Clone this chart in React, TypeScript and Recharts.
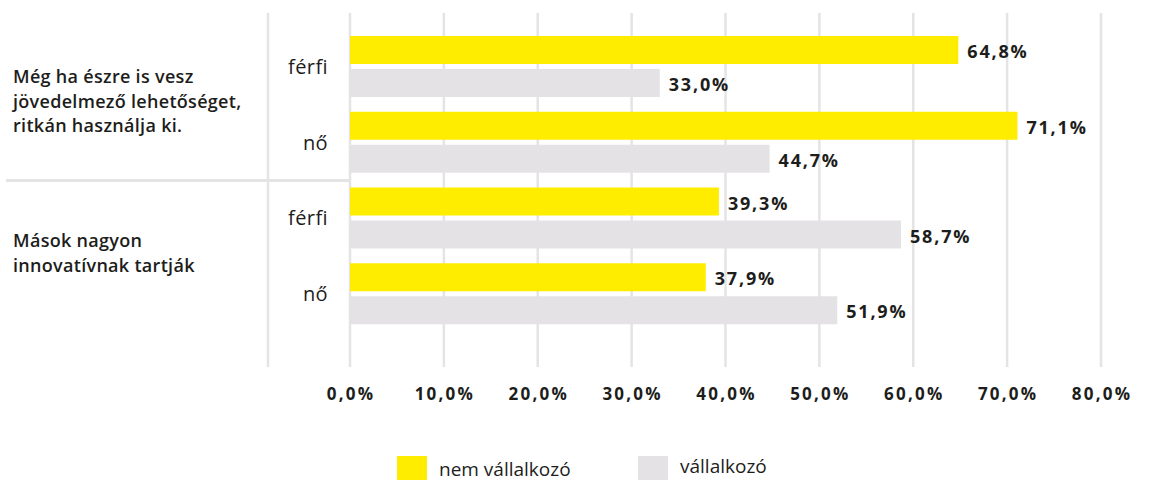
import React from 'react';
import { BarChart, Bar, XAxis, YAxis, CartesianGrid, LabelList } from 'recharts';

const groupLabels = [
  'Még ha észre is vesz\njövedelmező lehetőséget,\nritkán használja ki.',
  'Mások nagyon\ninnovatívnak tartják',
];
const genders = ['férfi', 'nő', 'férfi', 'nő'];
const rowGroup = [0, 0, 1, 1];
const nemVallalkozo = [64.8, 71.1, 39.3, 37.9];
const vallalkozo = [33.0, 44.7, 58.7, 51.9];
const xTicks = [0, 10, 20, 30, 40, 50, 60, 70, 80];
const seriesNames = ['nem vállalkozó', 'vállalkozó'];
const seriesColors = ['#ffed00', '#e4e2e5'];

const data = genders.map((g, i) => ({
  id: `r${i}`,
  gender: g,
  group: groupLabels[rowGroup[i]],
  nem: nemVallalkozo[i],
  vall: vallalkozo[i],
}));

const FONT = '"Open Sans", sans-serif';
const TEXT = '#1d1d1b';
const GRID = '#e4e4e4';
const PLOT_LEFT = 350;

const fmt = (v: number) => v.toFixed(1).replace('.', ',') + '%';

const GenderTick = (props: any) => {
  const { y, payload } = props;
  const row = data.find((d) => d.id === payload.value);
  return (
    <text x={PLOT_LEFT - 22} y={y} dy={7} textAnchor="end" fontSize={20} fill={TEXT} fontFamily={FONT} letterSpacing={0.4}>
      {row ? row.gender : ''}
    </text>
  );
};

const GroupTick = (props: any) => {
  const { y, payload, index } = props;
  const lines = String(payload.value).split('\n');
  const half = payload.offset ?? 75;
  const lh = 24.5;
  const start = y - 3 - ((lines.length - 1) * lh) / 2;
  return (
    <g>
      {lines.map((l, i) => (
        <text key={i} x={13} y={start + i * lh} dy={6} fontSize={18} fontWeight={600} fill={TEXT} fontFamily={FONT} letterSpacing={0.3}>
          {l}
        </text>
      ))}
      {index === 0 && <line x1={6} x2={PLOT_LEFT} y1={y + half} y2={y + half} stroke={GRID} strokeWidth={3} />}
    </g>
  );
};

const XTick = (props: any) => {
  const { x, y, payload } = props;
  return (
    <text x={x + 1} y={y} dy={31} textAnchor="middle" fontSize={17} fontWeight={700} fill={TEXT} fontFamily={FONT} letterSpacing={2.2}>
      {fmt(payload.value)}
    </text>
  );
};

const ValueLabel = (props: any) => {
  const { x, y, width, height, value } = props;
  return (
    <text x={x + width + 9} y={y + height / 2} dy={8} fontSize={18} fontWeight={700} fill={TEXT} fontFamily={FONT} letterSpacing={1.8}>
      {fmt(value)}
    </text>
  );
};

export default function App() {
  return (
    <div style={{ position: 'absolute', left: 0, top: 0, width: 1151, height: 481, background: '#fff', overflow: 'hidden' }}>
      <BarChart
        width={1151}
        height={481}
        data={data}
        layout="vertical"
        margin={{ top: 13, right: 50, left: 0, bottom: 74 }}
        barSize={28}
        barGap={5}
      >
        <CartesianGrid vertical horizontal={false} stroke={GRID} strokeWidth={2.5} />
        <XAxis
          type="number"
          domain={[0, 80]}
          ticks={xTicks}
          axisLine={false}
          tickLine={false}
          tickSize={0}
          height={40}
          tick={<XTick />}
          interval={0}
        />
        {/* inner axis (next to the plot): group labels */}
        <YAxis
          yAxisId="groups"
          type="category"
          dataKey="group"
          allowDuplicatedCategory={false}
          width={82}
          axisLine={false}
          tickLine={false}
          interval={0}
          padding={{ top: 16, bottom: 35 }}
          tick={<GroupTick />}
        />
        {/* outer axis: gender rows, its line is the divider at x=268 */}
        <YAxis
          yAxisId="rows"
          type="category"
          dataKey="id"
          width={268}
          axisLine={{ stroke: GRID, strokeWidth: 2.5 }}
          tickLine={false}
          interval={0}
          padding={{ top: 16, bottom: 35 }}
          tick={<GenderTick />}
        />
        <Bar dataKey="nem" name={seriesNames[0]} fill={seriesColors[0]} yAxisId="rows" isAnimationActive={false}>
          <LabelList dataKey="nem" content={<ValueLabel />} />
        </Bar>
        <Bar dataKey="vall" name={seriesNames[1]} fill={seriesColors[1]} yAxisId="rows" isAnimationActive={false}>
          <LabelList dataKey="vall" content={<ValueLabel />} />
        </Bar>
      </BarChart>
      {seriesNames.map((n, i) => (
        <div
          key={n}
          style={{
            position: 'absolute',
            left: i === 0 ? 397 : 638,
            top: 456,
            height: 24,
            display: 'flex',
            alignItems: 'center',
            fontFamily: FONT,
            fontSize: 19,
            fontWeight: 500,
            lineHeight: '20px',
            color: TEXT,
          }}
        >
          <span style={{ display: 'inline-block', width: 30, height: 24, background: seriesColors[i], marginRight: 12 }} />
          <span style={{ position: 'relative', top: i === 0 ? 1 : -2 }}>{n}</span>
        </div>
      ))}
    </div>
  );
}
